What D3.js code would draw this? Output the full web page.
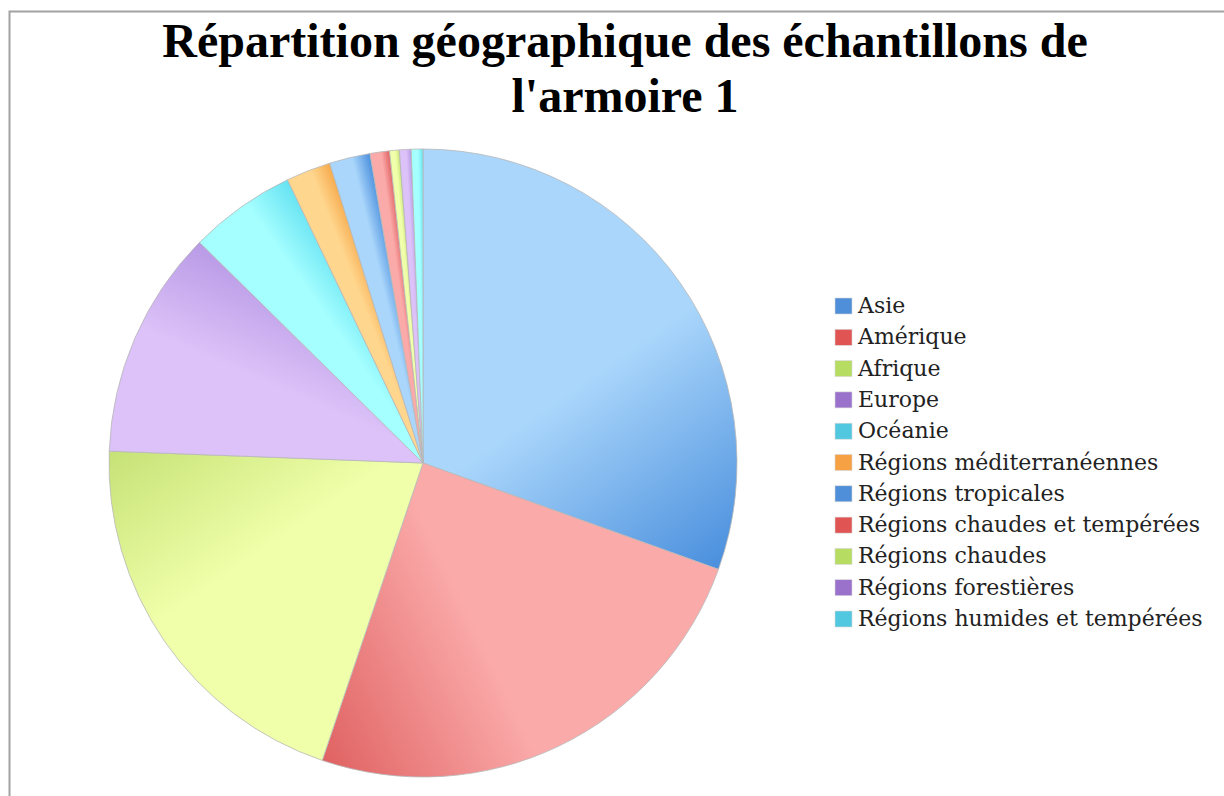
<!doctype html>
<html>
<head>
<meta charset="utf-8">
<script src="https://d3js.org/d3.v7.min.js"></script>
<style>
    body { margin: 0; background: #fff; }
    svg { display: block; }
</style>
</head>
<body>
<svg width="1224" height="796"></svg>
<script>
    // regions of cabinet 1 (share of samples)
    var regions = ["Asie", "Amérique", "Afrique", "Europe", "Océanie",
                   "Régions méditerranéennes", "Régions tropicales",
                   "Régions chaudes et tempérées", "Régions chaudes",
                   "Régions forestières", "Régions humides et tempérées"];
    var shares = [30.5, 24.7, 20.4, 11.8, 5.5, 2.3, 2.1, 1.0, 0.5, 0.6, 0.6];
    var lightColors = ["#aad6fb", "#fbaaaa", "#f0ffaa", "#dcc2f8", "#a6ffff", "#ffd68e",
                       "#aad6fb", "#fbaaaa", "#f0ffaa", "#dcc2f8", "#a6ffff"];
    var darkColors = ["#4a8fdd", "#e06262", "#c6e276", "#b89ae6", "#66e2f2", "#f6aa4c",
                      "#4a8fdd", "#e06262", "#c6e276", "#b89ae6", "#66e2f2"];
    var swatchColors = ["#4f8ed8", "#e05454", "#b6dc62", "#9a72cc", "#52c8e0", "#f6a244",
                        "#4f8ed8", "#e05454", "#b6dc62", "#9a72cc", "#52c8e0"];

    var svg = d3.select("svg"),
        cx = 423,
        cy = 463,
        radius = 314;

    // outer frame
    svg.append("path")
       .attr("d", "M9.5,830 V11.5 H1240")
       .attr("fill", "none")
       .attr("stroke", "#a2a2a2")
       .attr("stroke-width", 2);

    // title
    var title = svg.append("text")
       .attr("x", 625)
       .attr("y", 57)
       .attr("text-anchor", "middle")
       .attr("font-family", "'Liberation Serif', 'Times New Roman', serif")
       .attr("font-weight", "bold")
       .attr("font-size", "48px")
       .attr("fill", "#000");
    title.append("tspan").attr("x", 625).text("Répartition géographique des échantillons de");
    title.append("tspan").attr("x", 625).attr("dy", 55).text("l'armoire 1");

    var pie = d3.pie().sort(null).value(function(d) { return d; });
    var arc = d3.arc().innerRadius(0).outerRadius(radius);
    var arcs = pie(shares);

    var defs = svg.append("defs");
    arcs.forEach(function(a, i) {
        var g = defs.append("linearGradient")
            .attr("id", "grad" + i)
            .attr("gradientUnits", "userSpaceOnUse")
            .attr("x1", radius * Math.sin(a.startAngle))
            .attr("y1", -radius * Math.cos(a.startAngle))
            .attr("x2", radius * Math.sin(a.endAngle))
            .attr("y2", -radius * Math.cos(a.endAngle));
        g.append("stop").attr("offset", "0").attr("stop-color", lightColors[i]);
        g.append("stop").attr("offset", "0.55").attr("stop-color", lightColors[i]);
        g.append("stop").attr("offset", "1").attr("stop-color", darkColors[i]);
    });

    var g = svg.append("g")
               .attr("transform", "translate(" + cx + "," + cy + ")");

    g.selectAll(".slice")
     .data(arcs)
     .enter().append("path")
     .attr("class", "slice")
     .attr("d", arc)
     .attr("fill", function(d, i) { return "url(#grad" + i + ")"; })
     .attr("stroke", "#b8b8b8")
     .attr("stroke-width", 0.8);

    // legend
    var legend = svg.append("g").attr("transform", "translate(835,298)");
    var rows = legend.selectAll(".row")
        .data(regions)
        .enter().append("g")
        .attr("class", "row")
        .attr("transform", function(d, i) { return "translate(0," + (i * 31.3) + ")"; });

    rows.append("rect")
        .attr("width", 17)
        .attr("height", 16)
        .attr("fill", function(d, i) { return swatchColors[i]; })
        .attr("stroke", "#d8d8d8")
        .attr("stroke-width", 0.6);

    rows.append("text")
        .attr("x", 23)
        .attr("y", 15)
        .attr("font-family", "'DejaVu Serif', serif")
        .attr("font-size", "22px")
        .attr("fill", "#222")
        .text(function(d) { return d; });
</script>
</body>
</html>
